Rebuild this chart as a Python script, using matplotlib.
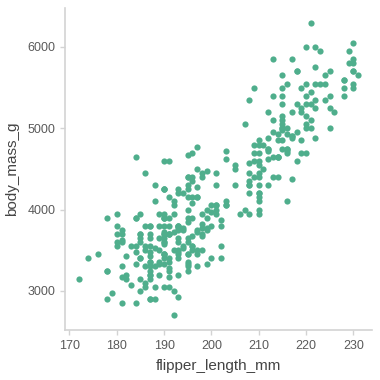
import matplotlib
matplotlib.use("Agg")
import matplotlib.pyplot as plt

# Palmer penguins: flipper length (mm) and body mass (g)
adelie_flipper = [
    181, 186, 195, 193, 190, 181, 195, 193, 190, 186, 180, 182, 191, 198, 185, 195, 197, 184, 194,
    174, 180, 189, 185, 180, 187, 183, 187, 172, 180,
    178, 178, 188, 184, 195, 196, 190, 180, 181, 184, 182, 195, 186, 196, 185, 190, 182, 179, 190, 191,
    186, 188, 190, 200, 187, 191, 186, 193, 181, 194, 185, 195, 185, 192, 184, 192, 195, 188,
    190, 198, 190, 190, 196, 197, 190, 195, 191, 184, 187, 195, 189, 196, 187, 193,
    191, 194, 190, 189, 189, 190, 202, 205, 185, 186, 187, 208, 190, 196, 178, 192,
    192, 203, 183, 190, 193, 184, 199, 190, 181, 197, 198, 191, 193, 197, 191, 196,
    188, 199, 189, 189, 187, 198, 176, 202, 186, 199, 191, 195, 191, 210, 190, 197,
    193, 199, 187, 190, 191, 200, 185, 193, 193, 187, 188, 190, 192, 185, 190, 184, 195, 193, 187, 201,
]
adelie_mass = [
    3750, 3800, 3250, 3450, 3650, 3625, 4675, 3475, 4250, 3300, 3700, 3200, 3800, 4400, 3700, 3450, 4500, 3325, 4200,
    3400, 3600, 3800, 3950, 3800, 3800, 3550, 3200, 3150, 3950,
    3250, 3900, 3300, 3900, 3325, 4150, 3950, 3550, 3300, 4650, 3150, 3900, 3100, 4400, 3000, 4600, 3425, 2975, 3450, 4150,
    3500, 4300, 3450, 4050, 2900, 3700, 3550, 3800, 2850, 3750, 3150, 4400, 3600, 4050, 2850, 3950, 3350, 4100,
    3050, 4450, 3600, 3900, 3550, 4150, 3700, 4250, 3700, 3900, 3550, 4000, 3200, 4700, 3800, 4200,
    3350, 3550, 3800, 3500, 3950, 3600, 3550, 4300, 3400, 4450, 3300, 4300, 3700, 4350, 2900, 4100,
    3725, 4725, 3075, 4250, 2925, 3550, 3750, 3900, 3175, 4775, 3825, 4600, 3200, 4275, 3900, 4075,
    2900, 3775, 3350, 3325, 3150, 3500, 3450, 3875, 3050, 4000, 3275, 4300, 3050, 4000, 3325, 3500,
    3500, 4475, 3425, 3900, 3175, 3975, 3400, 4250, 3400, 3475, 3050, 3725, 3000, 3650, 4250, 3475, 3450, 3750, 3700, 4000,
]
gentoo_flipper = [
    211, 230, 210, 218, 215, 210, 211, 219, 209, 215, 214, 216, 214, 213, 210, 217, 210, 221, 209, 222,
    218, 215, 213, 215, 215, 215, 216, 215, 210, 220, 222, 209, 207, 230, 220, 220, 213, 219, 208, 208,
    208, 225, 210, 216, 222, 217, 210, 225, 213, 215, 210, 220, 210, 225, 217, 220, 208, 220, 208, 224,
    208, 221, 214, 231, 219, 230, 214, 229, 220, 223, 216, 221, 221, 217, 216, 230, 209, 220, 215, 223,
    212, 221, 212, 224, 212, 228, 218, 218, 212, 230, 218, 228, 212, 224, 214, 226, 216, 222, 203, 225,
    219, 228, 215, 228, 216, 215, 210, 219, 208, 209, 216, 229, 213, 230, 217, 230, 217, 222, 214,
    215, 222, 212, 213,
]
gentoo_mass = [
    4500, 5700, 4450, 5700, 5400, 4550, 4800, 5200, 4400, 5150, 4650, 5550, 4650, 5850, 4200, 5850, 4150, 6300, 4800, 5350,
    5700, 5000, 4400, 5050, 5000, 5100, 4100, 5650, 4600, 5550, 5250, 4700, 5050, 6050, 5150, 5400, 4950, 5250, 4350, 5350,
    3950, 5700, 4300, 4750, 5550, 4900, 4200, 5400, 5100, 5300, 4850, 5300, 4400, 5000, 4900, 5050, 4300, 5000, 4450, 5550,
    4200, 5300, 4400, 5650, 4700, 5700, 4650, 5800, 4700, 5550, 4750, 5000, 5100, 5200, 4700, 5800, 4600, 6000, 4750, 5950,
    4625, 5450, 4725, 5350, 4750, 5600, 4600, 5300, 4875, 5550, 4950, 5400, 4750, 5650, 4850, 5200, 4925, 4875, 4625, 5250,
    4850, 5600, 4975, 5500, 4725, 5500, 4700, 5500, 4575, 5500, 5000, 5950, 4650, 5500, 4375, 5850, 4875, 6000, 4925,
    4850, 5750, 5200, 5400,
]
chinstrap_flipper = [
    192, 196, 193, 188, 197, 198, 178, 197, 195, 198, 193, 194, 185, 201, 190, 201, 197, 181, 190, 195,
    181, 191, 187, 193, 195, 197, 200, 200, 191, 205, 187, 201, 187, 203, 195, 199, 195, 210, 192, 205,
    210, 187, 196, 196, 196, 201, 190, 212, 187, 198, 199, 201, 193, 203, 187, 197, 191, 203, 202, 194,
    206, 189, 195, 207, 202, 193, 210, 198,
]
chinstrap_mass = [
    3500, 3900, 3650, 3525, 3725, 3950, 3250, 3750, 4150, 3700, 3800, 3775, 3700, 4050, 3575, 4050, 3300, 3700, 3450, 4400,
    3600, 3400, 2900, 3800, 3300, 4150, 3400, 3800, 3700, 4550, 3200, 4300, 3350, 4100, 3600, 3900, 3850, 4800, 2700, 4500,
    3950, 3650, 3550, 3500, 3675, 4450, 3400, 4300, 3250, 3675, 3325, 3950, 3600, 4050, 3350, 3450, 3250, 4050, 3800, 3525,
    3950, 3650, 3650, 4000, 3400, 3775, 4100, 3775,
]

flipper_length_mm = adelie_flipper + gentoo_flipper + chinstrap_flipper
body_mass_g = adelie_mass + gentoo_mass + chinstrap_mass

plt.rcParams["font.family"] = ["Liberation Sans", "DejaVu Sans"]

fig = plt.figure(figsize=(3.8, 3.8), dpi=100)
ax = fig.add_axes([0.171, 0.132, 0.808, 0.847])

ax.scatter(flipper_length_mm, body_mass_g, s=20, color="#4fae8c", linewidths=0)

ax.set_xticks([170, 180, 190, 200, 210, 220, 230])
ax.set_yticks([3000, 4000, 5000, 6000])

for side in ("top", "right"):
    ax.spines[side].set_visible(False)
for side in ("left", "bottom"):
    ax.spines[side].set_color("#d3d3d3")
    ax.spines[side].set_linewidth(1.2)

ax.tick_params(colors="#d3d3d3", labelcolor="#5a5a5a", labelsize=9, length=3.5, width=1)
ax.set_xlabel("flipper_length_mm", fontsize=11, color="#444444", labelpad=5)
ax.set_ylabel("body_mass_g", fontsize=11, color="#444444", labelpad=6)

fig.savefig("out.png", dpi=100, facecolor="white")
